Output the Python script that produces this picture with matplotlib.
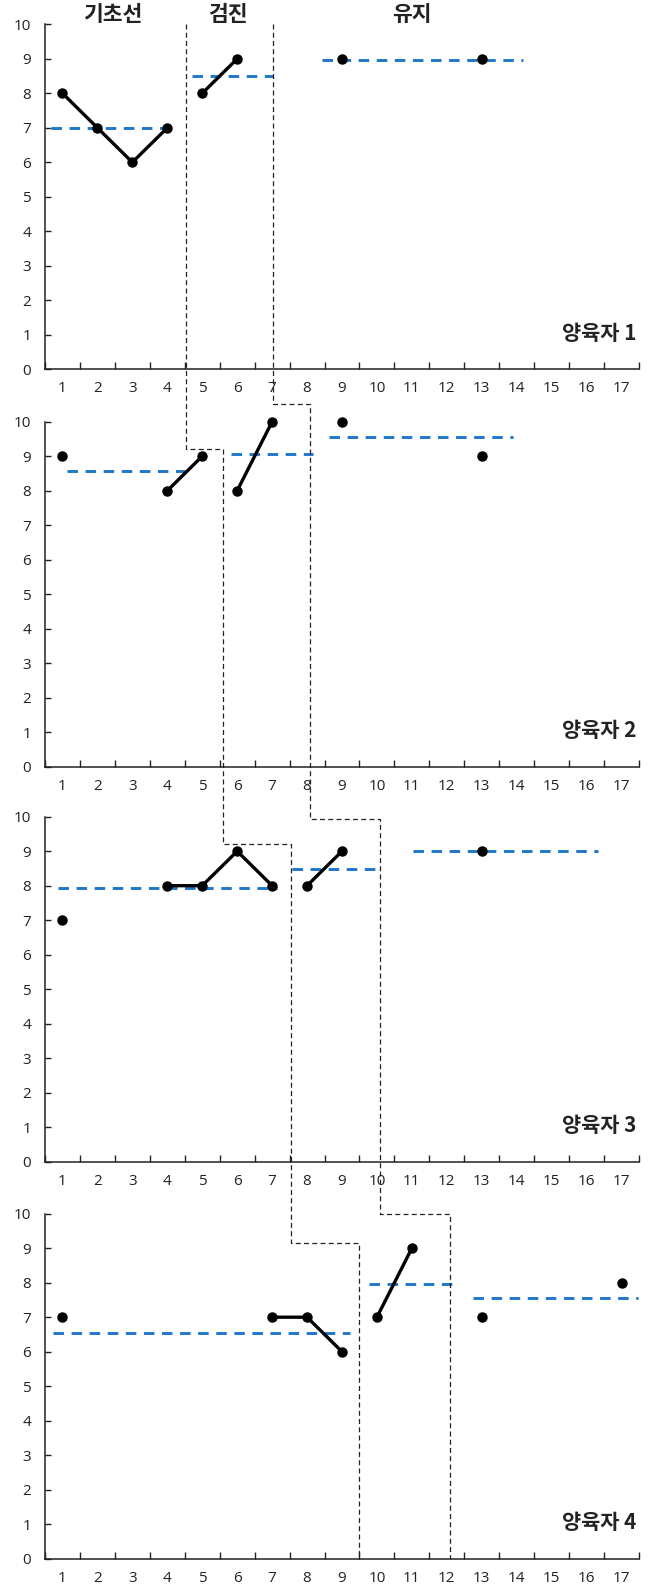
import numpy as np
import matplotlib
matplotlib.use("Agg")
import matplotlib.pyplot as plt
from matplotlib.lines import Line2D

plt.rcParams['font.family'] = ['Open Sans', 'DejaVu Sans']

nan = np.nan
sessions = list(range(1, 18))
tick_labels = [str(s) for s in sessions]

# scores per caregiver (NaN = not measured)
scores_1 = [8, 7, 6, 7, 8, 9, nan, nan, 9, nan, nan, nan, 9, nan, nan, nan, nan]
scores_2 = [9, nan, nan, 8, 9, 8, 10, nan, 10, nan, nan, nan, 9, nan, nan, nan, nan]
scores_3 = [7, nan, nan, 8, 8, 9, 8, 8, 9, nan, nan, nan, 9, nan, nan, nan, nan]
scores_4 = [7, nan, nan, nan, nan, nan, 7, 7, 6, 7, 9, nan, 7, nan, nan, nan, 8]

# last session of phase 1 and phase 2 per caregiver
phase_ends_1 = [4, 7]
phase_ends_2 = [5, 8]
phase_ends_3 = [7, 10]
phase_ends_4 = [9, 12]

# phase mean levels (as drawn) and their extents
means_1 = [7.0, 8.5, 8.97]
means_2 = [8.58, 9.05, 9.55]
means_3 = [7.92, 8.47, 9.02]
means_4 = [6.55, 7.95, 7.55]
mean_spans_1 = [(0.67, 4.28), (4.7, 7.02), (8.42, 14.18)]
mean_spans_2 = [(1.14, 4.72), (5.82, 8.16), (8.63, 13.88)]
mean_spans_3 = [(0.88, 7.14), (7.56, 10.12), (11.02, 16.33)]
mean_spans_4 = [(0.74, 9.23), (9.77, 12.15), (12.75, 17.46)]

# phase-change staircase lines: x per panel, step heights in next panel
change_a_x = [4.53, 5.6, 7.55, 9.5]
change_a_step = [9.2, 9.2, 9.15]
change_b_x = [7.02, 8.08, 10.09, 12.08]
change_b_step = [10.5, 9.92, 10.0]

phase_names = ['기초선', '검진', '유지']
phase_name_x = [2.43, 5.74, 11.0]
panel_names = ['양육자 1', '양육자 2', '양육자 3', '양육자 4']

all_scores = [scores_1, scores_2, scores_3, scores_4]
all_ends = [phase_ends_1, phase_ends_2, phase_ends_3, phase_ends_4]
all_means = [means_1, means_2, means_3, means_4]
all_spans = [mean_spans_1, mean_spans_2, mean_spans_3, mean_spans_4]

W, H = 651, 1587
fig = plt.figure(figsize=(W / 100, H / 100), dpi=100)
left = 45 / W
width = (639 - 45) / W
bottoms_px = [369.3, 766.7, 1161.7, 1558.7]
height = 345 / H

blue = '#1F77C8'
txt = '#222222'
cjk = ['Noto Sans CJK KR', 'DejaVu Sans']
axes = []
for i in range(4):
    ax = fig.add_axes([left, 1 - bottoms_px[i] / H, width, height])
    axes.append(ax)
    x = np.array(sessions, dtype=float)
    y = np.array(all_scores[i], dtype=float)
    e1, e2 = all_ends[i]
    groups = [(x <= e1), (x > e1) & (x <= e2), (x > e2)]
    for g in groups:
        ax.plot(x[g], y[g], color='black', lw=2.4, marker='o', ms=6.5,
                clip_on=False, zorder=3)
    for m, (s0, s1) in zip(all_means[i], all_spans[i]):
        ax.plot([s0, s1], [m, m], color=blue, lw=2.1, dashes=(3.6, 2.6),
                clip_on=False, zorder=2)
    ax.set_xlim(0.5, 17.5)
    ax.set_ylim(0, 10)
    ax.set_xticks(sessions)
    ax.set_xticklabels(tick_labels)
    ax.set_xticks(np.arange(0.5, 18, 1.0), minor=True)
    ax.set_yticks(range(0, 11))
    ax.tick_params(axis='x', which='major', length=0, pad=8.5, labelsize=11,
                   labelcolor=txt)
    ax.tick_params(axis='x', which='minor', length=5, width=1, direction='in',
                   color='#222222')
    ax.tick_params(axis='y', which='major', length=4.5, width=1, direction='in',
                   pad=10, labelsize=11, labelcolor=txt, color='#222222')
    for s in ['top', 'right']:
        ax.spines[s].set_visible(False)
    for s in ['left', 'bottom']:
        ax.spines[s].set_linewidth(1.1)
        ax.spines[s].set_color('#222222')
    ax.text(17.43, 1.05, panel_names[i], ha='right', va='center',
            fontsize=15, fontweight='bold', color=txt, family=cjk)

for name, xp in zip(phase_names, phase_name_x):
    axes[0].text(xp, 10.27, name, ha='center', va='center', fontsize=15.5,
                 fontweight='bold', color=txt, clip_on=False, family=cjk)


def staircase(xs, steps):
    pts = [(0, xs[0], 10.0)]
    for i, sy in enumerate(steps):
        pts.append((i + 1, xs[i], sy))
        pts.append((i + 1, xs[i + 1], sy))
    pts.append((3, xs[3], 0.0))
    fx, fy = [], []
    inv = fig.transFigure.inverted()
    for k, px, py in pts:
        p = inv.transform(axes[k].transData.transform((px, py)))
        fx.append(p[0])
        fy.append(p[1])
    fig.add_artist(Line2D(fx, fy, transform=fig.transFigure, color='#222222',
                          lw=0.9, dashes=(4, 2.6), zorder=5))


staircase(change_a_x, change_a_step)
staircase(change_b_x, change_b_step)

fig.savefig('out.png', dpi=100, facecolor='white')
